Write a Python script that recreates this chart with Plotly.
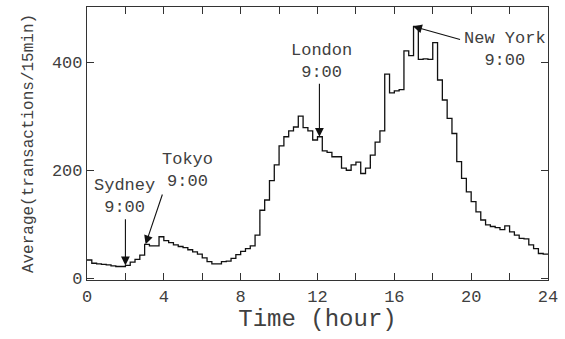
import plotly.graph_objects as go

# Average number of transactions per 15-minute bin over the day (96 bins)
avg_transactions = [
    34, 28, 27, 26, 25, 23, 22, 22, 24, 30, 35, 43,
    63, 60, 60, 77,
    70, 66, 62, 59, 57, 53, 49, 45, 38,
    31, 27, 27, 31, 32,
    37, 44, 50, 55, 60, 80,
    126, 145, 181, 210, 245, 262, 273, 280, 300,
    279, 273, 256, 262, 236, 233, 225, 225, 204, 200, 210, 215, 194, 204, 228, 252, 273, 378,
    343, 347, 349, 421, 412, 466, 405, 406, 405, 436, 367,
    330, 296, 268, 216, 185, 160, 142, 123, 108, 99, 96, 94, 90, 97,
    86, 80, 74, 73, 62, 55, 46, 45,
]
bin_width_hours = 0.25
bin_start_hours = [i * bin_width_hours for i in range(len(avg_transactions))]

x_tick_values = [0, 4, 8, 12, 16, 20, 24]
y_tick_values = [0, 200, 400]

# Market openings (local 9:00) -> hour on the chart axis
market_names = ["Sydney", "Tokyo", "London", "New York"]
market_open_hours = [2.0, 3.0, 12.0, 17.0]


def value_at(hour):
    idx = min(int(round(hour / bin_width_hours)), len(avg_transactions) - 1)
    return avg_transactions[idx]


FONT = "Liberation Mono, Courier New, monospace"
TXT = "#404040"

x_line = bin_start_hours + [24]
y_line = avg_transactions + [avg_transactions[-1]]

fig = go.Figure()
fig.add_trace(go.Scatter(
    x=x_line, y=y_line, mode="lines",
    line=dict(shape="hv", color="#111111", width=1.3),
    showlegend=False, hoverinfo="skip",
))

annotations = []
label_pos = {
    "Sydney": (1.93, 152),
    "Tokyo": (5.25, 200),
    "London": (12.22, 402),
    "New York": (21.75, 424),
}
for name in market_names:
    lx, ly = label_pos[name]
    annotations.append(dict(
        x=lx, y=ly, xref="x", yref="y", text=f"{name}<br>9:00",
        showarrow=False, align="center",
        font=dict(family=FONT, size=17, color=TXT),
    ))

arrow_tails = {
    "Sydney": (2.0, 112),
    "Tokyo": (3.95, 158),
    "London": (12.1, 363),
    "New York": (19.5, 441),
}
arrow_tip_x = {"Sydney": 2.0, "Tokyo": 3.05, "London": 12.1, "New York": 16.98}
for name, h in zip(market_names, market_open_hours):
    tx, ty = arrow_tails[name]
    annotations.append(dict(
        x=arrow_tip_x[name], y=value_at(h), xref="x", yref="y",
        ax=tx, ay=ty, axref="x", ayref="y", text="",
        showarrow=True, arrowhead=2, arrowsize=1.6, arrowwidth=1.1,
        arrowcolor="#111111", standoff=0,
    ))

fig.update_layout(
    width=565, height=339,
    margin=dict(l=87, r=17, t=7, b=59),
    paper_bgcolor="white", plot_bgcolor="white",
    annotations=annotations,
    font=dict(family=FONT, color=TXT),
    xaxis=dict(
        range=[0, 24], tickvals=x_tick_values, automargin=False,
        ticks="inside", ticklen=7, tickwidth=1, tickcolor="#333",
        minor=dict(dtick=2, tick0=0, ticks="inside", ticklen=7, tickcolor="#333", showgrid=False),
        showline=True, linecolor="#333", linewidth=1.2, mirror="ticks",
        showgrid=False, zeroline=False,
        tickfont=dict(family=FONT, size=17, color=TXT),
        title=dict(text="Time (hour)", font=dict(family=FONT, size=24, color=TXT), standoff=2),
    ),
    yaxis=dict(
        range=[-3, 502], tickvals=y_tick_values, automargin=False,
        ticks="inside", ticklen=7, tickwidth=1, tickcolor="#333",
        showline=True, linecolor="#333", linewidth=1.2, mirror="ticks",
        showgrid=False, zeroline=False,
        tickfont=dict(family=FONT, size=17, color=TXT),
        title=dict(text="Average(transactions/15min)", font=dict(family=FONT, size=16, color=TXT), standoff=14),
    ),
)

fig.write_html("out.html", config={"displayModeBar": False},
               post_script="document.body.style.margin='0';")
